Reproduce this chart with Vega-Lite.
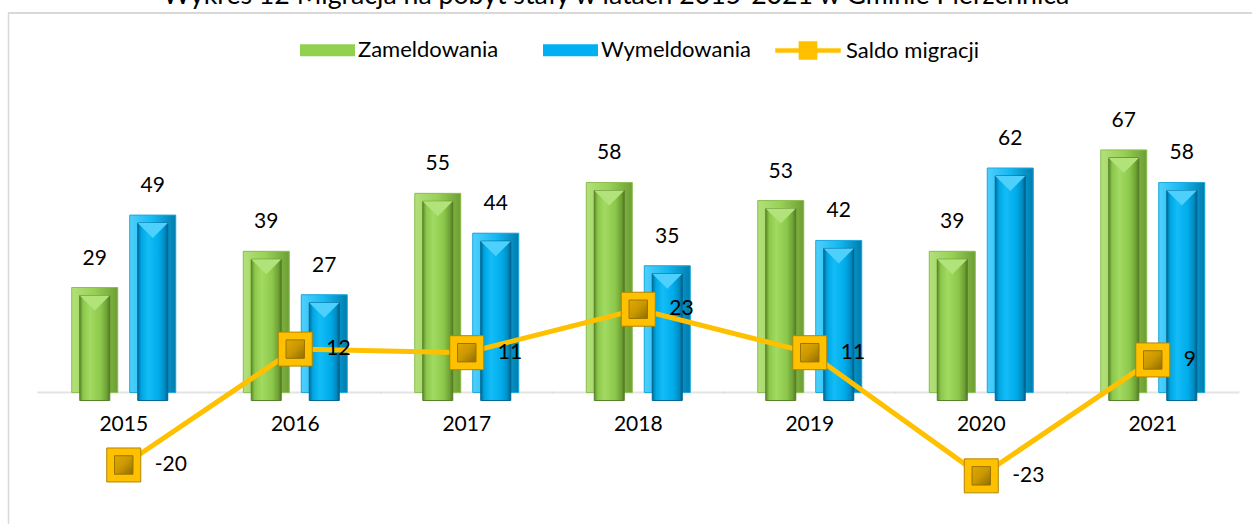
{
  "$schema": "https://vega.github.io/schema/vega-lite/v6.json",
  "width": 1244,
  "height": 511,
  "autosize": {"type": "none"},
  "padding": {"left": 8, "top": 13, "right": 0, "bottom": 0},
  "background": "#ffffff",
  "title": {
    "text": "Wykres 12 Migracja na pobyt stały w latach 2015-2021 w Gminie Pierzchnica",
    "font": "Lato", "fontSize": 26.7, "fontWeight": "normal", "color": "#000000",
    "anchor": "middle", "frame": "group", "baseline": "alphabetic", "offset": 0, "dx": -14, "dy": 18
  },
  "config": {
    "view": {"stroke": null},
    "font": "Lato"
  },
  "datasets": {
    "bars": [
      {"year": "2015", "series": "Zameldowania", "value": 29},
      {"year": "2016", "series": "Zameldowania", "value": 39},
      {"year": "2017", "series": "Zameldowania", "value": 55},
      {"year": "2018", "series": "Zameldowania", "value": 58},
      {"year": "2019", "series": "Zameldowania", "value": 53},
      {"year": "2020", "series": "Zameldowania", "value": 39},
      {"year": "2021", "series": "Zameldowania", "value": 67},
      {"year": "2015", "series": "Wymeldowania", "value": 49},
      {"year": "2016", "series": "Wymeldowania", "value": 27},
      {"year": "2017", "series": "Wymeldowania", "value": 44},
      {"year": "2018", "series": "Wymeldowania", "value": 35},
      {"year": "2019", "series": "Wymeldowania", "value": 42},
      {"year": "2020", "series": "Wymeldowania", "value": 62},
      {"year": "2021", "series": "Wymeldowania", "value": 58}
    ],
    "saldo": [
      {"year": "2015", "value": -20},
      {"year": "2016", "value": 12},
      {"year": "2017", "value": 11},
      {"year": "2018", "value": 23},
      {"year": "2019", "value": 11},
      {"year": "2020", "value": -23},
      {"year": "2021", "value": 9}
    ]
  },
  "encoding": {
    "x": {
      "field": "year", "type": "nominal", "title": null,
      "scale": {"paddingInner": 0, "paddingOuter": 0.1268, "align": 0.69},
      "axis": {"orient": "bottom", "offset": -131.5, "domain": false, "ticks": false, "labelAngle": 0,
               "labelFont": "Lato", "labelFontSize": 21, "labelColor": "#000000", "labelPadding": 21}
    },
    "y": {
      "field": "value", "type": "quantitative",
      "scale": {"domain": [-36.3, 104.8], "nice": false, "zero": false},
      "axis": {"orient": "left", "domain": true, "domainColor": "#D9D9D9", "domainWidth": 1.5, "labels": false, "ticks": false, "grid": false, "title": null}
    }
  },
  "layer": [
    {
      "data": {"name": "saldo"},
      "mark": {"type": "rule", "color": "#D9D9D9", "strokeWidth": 1.5},
      "encoding": {"x": null, "y": {"datum": 104.8}}
    },
    {
      "data": {"name": "saldo"},
      "mark": {"type": "tick", "orient": "horizontal", "color": "#D9D9D9", "thickness": 2, "size": 173},
      "encoding": {"y": {"datum": 0}}
    },
    {
      "data": {"name": "bars"},
      "mark": {"type": "bar"},
      "encoding": {
        "xOffset": {"field": "series", "scale": {"domain": ["Zameldowania", "Wymeldowania"], "paddingInner": 0.207, "paddingOuter": 0.582}},
        "fill": {
          "field": "series", "type": "nominal",
          "scale": {"domain": ["Zameldowania", "Wymeldowania"], "range": ["#92D050", "#00B0F0"]},
          "legend": {
            "title": null, "orient": "none", "direction": "horizontal", "legendX": 292, "legendY": 9.5,
            "symbolType": "M-1,-0.22H1V0.22H-1Z", "symbolSize": 3025, "symbolStrokeWidth": 0,
            "labelFont": "Lato", "labelFontSize": 22, "labelColor": "#000000", "labelOffset": 3,
            "columnPadding": 44
          }
        }
      }
    },
    {
      "data": {"name": "bars"},
      "transform": [{"filter": "datum.series === 'Zameldowania'"}],
      "mark": {"type": "bar", "color": {"gradient": "linear", "x1": 0, "y1": 0, "x2": 1, "y2": 0,
        "stops": [{"offset": 0, "color": "#B3E07A"}, {"offset": 0.5, "color": "#98D056"}, {"offset": 1, "color": "#6E9E34"}]},
        "stroke": "#8DBF52", "strokeWidth": 1},
      "encoding": {"xOffset": {"field": "series", "scale": {"domain": ["Zameldowania", "Wymeldowania"], "paddingInner": 0.207, "paddingOuter": 0.582}}}
    },
    {
      "data": {"name": "bars"},
      "transform": [{"filter": "datum.series === 'Wymeldowania'"}],
      "mark": {"type": "bar", "color": {"gradient": "linear", "x1": 0, "y1": 0, "x2": 1, "y2": 0,
        "stops": [{"offset": 0, "color": "#4FD0FC"}, {"offset": 0.5, "color": "#14B8F2"}, {"offset": 1, "color": "#007DAE"}]},
        "stroke": "#21A9DC", "strokeWidth": 1},
      "encoding": {"xOffset": {"field": "series", "scale": {"domain": ["Zameldowania", "Wymeldowania"], "paddingInner": 0.207, "paddingOuter": 0.582}}}
    },
    {
      "data": {"name": "bars"},
      "transform": [{"filter": "datum.series === 'Zameldowania'"}],
      "mark": {"type": "bar", "width": 30, "yOffset": 8, "y2Offset": -8,
        "color": {"gradient": "linear", "x1": 0, "y1": 0, "x2": 1, "y2": 0,
        "stops": [{"offset": 0, "color": "#5E8E2C"}, {"offset": 0.12, "color": "#8CC84B"}, {"offset": 0.35, "color": "#A2DA62"}, {"offset": 0.7, "color": "#8CC84B"}, {"offset": 0.9, "color": "#6FA136"}, {"offset": 1, "color": "#4F7A22"}]},
        "stroke": "#557F27", "strokeWidth": 1},
      "encoding": {"xOffset": {"field": "series", "scale": {"domain": ["Zameldowania", "Wymeldowania"], "paddingInner": 0.207, "paddingOuter": 0.582}}}
    },
    {
      "data": {"name": "bars"},
      "transform": [{"filter": "datum.series === 'Wymeldowania'"}],
      "mark": {"type": "bar", "width": 30, "yOffset": 8, "y2Offset": -8,
        "color": {"gradient": "linear", "x1": 0, "y1": 0, "x2": 1, "y2": 0,
        "stops": [{"offset": 0, "color": "#006E9E"}, {"offset": 0.12, "color": "#00A6E3"}, {"offset": 0.35, "color": "#12BDF7"}, {"offset": 0.7, "color": "#00ABEA"}, {"offset": 0.9, "color": "#008CC2"}, {"offset": 1, "color": "#005F8A"}]},
        "stroke": "#00648F", "strokeWidth": 1},
      "encoding": {"xOffset": {"field": "series", "scale": {"domain": ["Zameldowania", "Wymeldowania"], "paddingInner": 0.207, "paddingOuter": 0.582}}}
    },
    {
      "data": {"name": "bars"},
      "mark": {"type": "point", "shape": "M-1,0L1,0L0,1Z", "size": 900, "filled": true, "opacity": 1, "yOffset": 8},
      "encoding": {
        "xOffset": {"field": "series", "scale": {"domain": ["Zameldowania", "Wymeldowania"], "paddingInner": 0.207, "paddingOuter": 0.582}},
        "fill": {"condition": {"test": "datum.series === 'Zameldowania'", "value": "#B2E37A"}, "value": "#4DD0FC"}
      }
    },
    {
      "data": {"name": "bars"},
      "mark": {"type": "text", "dy": -29, "align": "center", "baseline": "middle", "font": "Lato", "fontSize": 21, "color": "#000000"},
      "encoding": {
        "xOffset": {"field": "series", "scale": {"domain": ["Zameldowania", "Wymeldowania"], "paddingInner": 0.207, "paddingOuter": 0.582}},
        "text": {"field": "value", "type": "nominal"}
      }
    },
    {
      "data": {"name": "saldo"},
      "mark": {"type": "line", "strokeWidth": 5},
      "encoding": {
        "stroke": {
          "datum": "Saldo migracji",
          "scale": {"range": ["#FFC000"]},
          "legend": {
            "title": null, "orient": "none", "legendX": 767, "legendY": 4.5,
            "symbolType": "M-1,-0.065H1V0.065H-1Z M-0.28,-0.28H0.28V0.28H-0.28Z", "symbolSize": 4225,
            "symbolFillColor": "#FFC000", "symbolStrokeWidth": 0.5,
            "labelFont": "Lato", "labelFontSize": 22, "labelColor": "#000000", "labelOffset": 5
          }
        }
      }
    },
    {
      "data": {"name": "saldo"},
      "mark": {"type": "point", "shape": "square", "size": 1156, "filled": true, "opacity": 1, "color": "#FFC000", "stroke": "#B08600", "strokeWidth": 1}
    },
    {
      "data": {"name": "saldo"},
      "mark": {"type": "point", "shape": "square", "size": 340, "filled": true, "opacity": 1,
        "color": {"gradient": "linear", "x1": 0, "y1": 0, "x2": 1, "y2": 1,
          "stops": [{"offset": 0, "color": "#E2AA00"}, {"offset": 0.5, "color": "#C99700"}, {"offset": 1, "color": "#8F6C00"}]},
        "stroke": "#9A7400", "strokeWidth": 1}
    },
    {
      "data": {"name": "saldo"},
      "mark": {"type": "text", "dx": 31, "align": "left", "baseline": "middle", "font": "Lato", "fontSize": 21, "color": "#000000"},
      "encoding": {"text": {"field": "value", "type": "nominal"}}
    }
  ]
}
